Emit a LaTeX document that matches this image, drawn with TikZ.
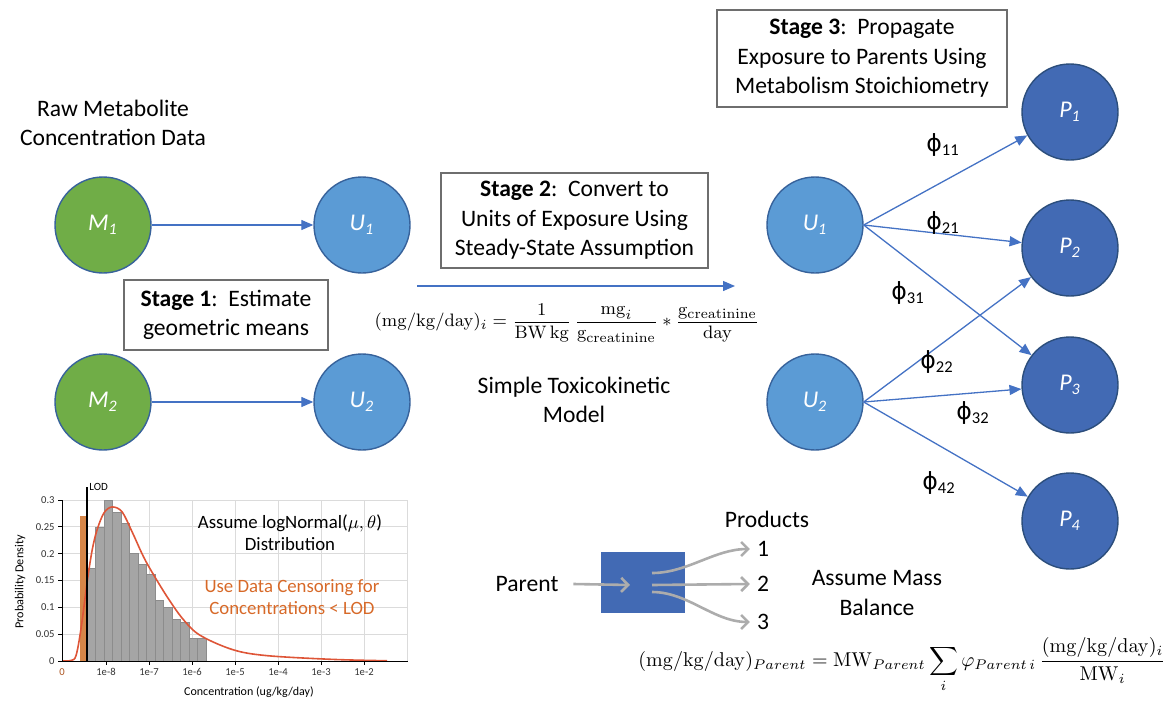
\documentclass[tikz,border=0pt]{standalone}
\usepackage[no-math]{fontspec}
\setmainfont{Carlito}
\newfontfamily\symfont{DejaVu Sans}
\usetikzlibrary{arrows.meta, positioning}

\definecolor{metgreen}{RGB}{112,173,71}
\definecolor{urblue}{RGB}{91,155,213}
\definecolor{prtblue}{RGB}{66,106,180}
\definecolor{rimblue}{RGB}{55,98,155}
\definecolor{linkblue}{RGB}{68,114,196}
\definecolor{boxgray}{RGB}{110,110,110}
\definecolor{flowgray}{RGB}{172,172,172}
\definecolor{barfill}{RGB}{165,165,165}
\definecolor{lodorange}{RGB}{214,134,72}
\definecolor{fitred}{RGB}{222,85,55}
\definecolor{censor}{RGB}{215,105,40}

\newcommand{\phil}[1]{{\symfont ϕ}\textsubscript{#1}}

\begin{document}
\begin{tikzpicture}[x=0.5pt, y=-0.5pt,
    txt/.style={font=\fontsize{11.8}{14.8}\selectfont, align=center},
    pool/.style={circle, draw=rimblue, line width=0.7pt, minimum size=48pt, inner sep=0pt, text=white, font=\fontsize{12}{14}\selectfont\itshape},
    met/.style={pool, fill=metgreen},
    urn/.style={pool, fill=urblue},
    prt/.style={pool, fill=prtblue, draw=rimblue!80!black},
    stagebox/.style={txt, draw=boxgray, line width=0.75pt, fill=white, inner sep=0pt},
    link/.style={-{Triangle[length=6pt,width=5pt]}, linkblue, line width=0.65pt},
    coef/.style={font=\fontsize{11.8}{14}\selectfont},
    flow/.style={-{Straight Barb[length=3.5pt,width=7pt]}, flowgray, line width=1.3pt},
    histtxt/.style={font=\fontsize{9.4}{11}\selectfont, align=center},
    ticktxt/.style={font=\fontsize{5.3}{6}\selectfont, black!80},
    gridln/.style={black!14, line width=0.4pt}
  ]
  \useasboundingbox (0,0) rectangle (1168,707);

  % --- Stage 1: metabolites to urine ---
  \node[txt] (rawlbl) at (113,123) {Raw Metabolite\\Concentration Data};
  \node[met] (m1) at (103,225) {M\textsubscript{1}};
  \node[urn] (u1) at (362,225) {U\textsubscript{1}};
  \node[met] (m2) at (103,402) {M\textsubscript{2}};
  \node[urn] (u2) at (362,402) {U\textsubscript{2}};
  \draw[link] (m1) -- (u1);
  \draw[link] (m2) -- (u2);
  \node[stagebox, minimum width=102pt, minimum height=35pt] (st1) at (226,315)
    {\textbf{Stage 1}:\ \ Estimate\\geometric means};

  % --- Stage 2: toxicokinetic conversion ---
  \node[stagebox, minimum width=133.5pt, minimum height=47.5pt] (st2) at (574.5,220.5)
    {\textbf{Stage 2}:\ \ Convert to\\Units of Exposure Using\\Steady-State Assumption};
  \coordinate (convfrom) at (417,286);
  \coordinate (convto) at (735,286);
  \draw[link] (convfrom) -- (convto);
  \node[font=\fontsize{9.3}{11}\selectfont] (conv) at (567,323)
    {$\displaystyle (\mathrm{mg/kg/day})_i = \frac{1}{\mathrm{BW\,kg}}\,\frac{\mathrm{mg}_i}{\mathrm{g}_{\mathrm{creatinine}}} * \frac{\mathrm{g}_{\mathrm{creatinine}}}{\mathrm{day}}$};
  \node[txt] (tk) at (574,400) {Simple Toxicokinetic\\Model};

  % --- Stage 3: urine to parents ---
  \node[stagebox, minimum width=145pt, minimum height=48.5pt] (st3) at (862,58.5)
    {\textbf{Stage 3}:\ \ Propagate\\Exposure to Parents Using\\Metabolism Stoichiometry};
  \node[urn] (ru1) at (815,225) {U\textsubscript{1}};
  \node[urn] (ru2) at (815,402) {U\textsubscript{2}};
  \foreach \k/\y in {1/112, 2/248, 3/385, 4/521}
    \node[prt] (p\k) at (1070,\y) {P\textsubscript{\k}};
  \draw[link] (ru1.east) -- (p1);
  \draw[link] (ru1.east) -- (p2);
  \draw[link] (ru1.east) -- (p3);
  \draw[link] (ru2.east) -- (p2);
  \draw[link] (ru2.east) -- (p3);
  \draw[link] (ru2.east) -- (p4);
  \node[coef] (f11) at (943,145) {\phil{11}};
  \node[coef] (f21) at (943,223) {\phil{21}};
  \node[coef] (f31) at (908,293) {\phil{31}};
  \node[coef] (f22) at (937,362) {\phil{22}};
  \node[coef] (f32) at (973,413) {\phil{32}};
  \node[coef] (f42) at (939,483) {\phil{42}};

  % --- mass balance sketch ---
  \node[txt] (parentlbl) at (527,584) {Parent};
  \node[fill=prtblue, minimum width=42pt, minimum height=30.5pt, inner sep=0pt] (react) at (643,582.5) {};
  \coordinate (inlet) at (630,585);
  \draw[flow] ([xshift=4pt]parentlbl.east) -- (inlet);
  \node[txt] (prodlbl) at (767,519) {Products};
  \node[txt] (prod1) at (763,549) {1};
  \node[txt] (prod2) at (763,584) {2};
  \node[txt] (prod3) at (763,622) {3};
  \coordinate (out1) at (652,573);
  \coordinate (out2) at (652,585);
  \coordinate (out3) at (652,592);
  \draw[flow] (out1) to[out=0, in=180, looseness=0.9] (prod1.west);
  \draw[flow] (out2) -- (prod2.west);
  \draw[flow] (out3) to[out=0, in=180, looseness=0.9] (prod3.west);
  \node[txt] (massbal) at (877,593) {Assume Mass\\Balance};
  \node[font=\fontsize{9.8}{12}\selectfont] (bal) at (902,665)
    {$\displaystyle (\mathrm{mg/kg/day})_{Parent} = \mathrm{MW}_{Parent}\sum_i \varphi_{Parent\,i}\,\frac{(\mathrm{mg/kg/day})_i}{\mathrm{MW}_i}$};

  % --- histogram of concentrations ---
  \begin{scope}[shift={(62,661)}, yscale=-536.7]
    \foreach \v in {0.05,0.1,...,0.31}
      \draw[gridln] (0,\v) -- (346,\v);
    \foreach \k in {0,...,7}
      \draw[gridln] ({44+43*\k},0) -- ({44+43*\k},0.3);
    \fill[lodorange] (18,0) rectangle (25,0.27);
    \foreach \h [count=\k from 0] in {0.172,0.25,0.30,0.278,0.256,0.2,0.18,0.162,0.113,0.1,0.077,0.072,0.043,0.043}
      \draw[fill=barfill, draw=black!45, line width=0.3pt] ({25+8.5*\k},0) rectangle ({33.5+8.5*\k},\h);
    \draw[fitred, line width=0.8pt] plot[smooth, tension=0.55] coordinates {
      (0,0) (9,0.001) (14,0.01) (19,0.06) (25,0.145) (30,0.205) (35,0.244)
      (42,0.276) (50,0.287) (60,0.278) (71,0.237) (80,0.2) (88,0.172)
      (105,0.12) (121,0.078) (138,0.048) (171,0.021) (205,0.01) (271,0.003) (325,0.0005)};
    \draw[black, line width=0.6pt] (25,0) -- (25,0.324);
    \node[font=\fontsize{5.5}{6}\selectfont, anchor=west, inner sep=1pt] (lodlbl) at (25,0.325) {LOD};
    \draw[black, line width=0.5pt] (0,0.3) -- (0,0) -- (346,0);
    \foreach \v/\t in {0/0,0.05/0.05,0.1/0.1,0.15/0.15,0.2/0.2,0.25/0.25,0.3/0.3} {
      \draw[black, line width=0.4pt] (-4,\v) -- (0,\v);
      \node[ticktxt, anchor=east, inner sep=1pt] at (-5,\v) {\t};
    }
    \node[ticktxt, text=censor!80!black, anchor=north, inner sep=1.5pt] at (0,-0.008) {0};
    \foreach \t [count=\k from 0] in {1e-8,1e-7,1e-6,1e-5,1e-4,1e-3,1e-2} {
      \draw[black, line width=0.4pt] ({44+43*\k},0) -- ({44+43*\k},-0.007);
      \node[ticktxt, anchor=north, inner sep=1.5pt] at ({44+43*\k},-0.008) {\t};
    }
    \node[histtxt] (lognote) at (228,0.24) {Assume logNormal($\mu,\theta$)\\Distribution};
    \node[histtxt, text=censor] (censnote) at (230,0.119) {Use Data Censoring for\\Concentrations < LOD};
  \end{scope}
  \node[font=\fontsize{6.1}{7}\selectfont, rotate=90] (ylbl) at (20,582) {Probability Density};
  \node[font=\fontsize{6}{7}\selectfont] (xlbl) at (249,692) {Concentration (ug/kg/day)};
\end{tikzpicture}
\end{document}
